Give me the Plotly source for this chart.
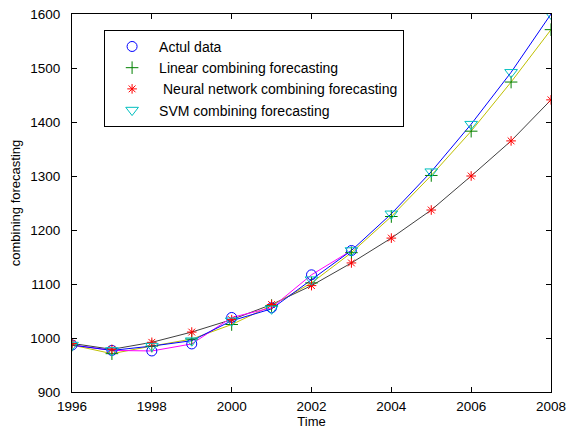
import plotly.graph_objects as go

years = list(range(1996, 2009))
actual_years = list(range(1996, 2004))
actual = [987, 977, 976, 989, 1038, 1056, 1117, 1162]
linear = [987, 971, 985, 998, 1025, 1060, 1102, 1158, 1225, 1301, 1383, 1474, 1571]
neural = [990, 979, 992, 1011, 1034, 1062, 1097, 1139, 1185, 1237, 1300, 1365, 1441]
svm = [987, 977, 985, 995, 1032, 1054, 1108, 1162, 1230, 1308, 1396, 1492, 1600]

x_ticks = [1996, 1998, 2000, 2002, 2004, 2006, 2008]
y_ticks = [900, 1000, 1100, 1200, 1300, 1400, 1500, 1600]

FONT = "Liberation Sans, Arial, sans-serif"

fig = go.Figure()
# connecting lines (not in legend)
fig.add_trace(go.Scatter(x=years, y=neural, mode="lines", line=dict(color="#404040", width=1), showlegend=False, hoverinfo="skip"))
fig.add_trace(go.Scatter(x=years, y=linear, mode="lines", line=dict(color="#bfbf00", width=1), showlegend=False, hoverinfo="skip"))
fig.add_trace(go.Scatter(x=actual_years, y=actual, mode="lines", line=dict(color="#ff00ff", width=1), showlegend=False, hoverinfo="skip"))
fig.add_trace(go.Scatter(x=years, y=svm, mode="lines", line=dict(color="#0000ff", width=1), showlegend=False, hoverinfo="skip"))

# markers (legend)
fig.add_trace(go.Scatter(x=actual_years, y=actual, mode="markers", name="Actul data",
                         marker=dict(symbol="circle-open", size=10, color="#0000ff", line=dict(width=1))))
fig.add_trace(go.Scatter(x=years, y=linear, mode="markers", name="Linear combining forecasting",
                         marker=dict(symbol="cross-thin-open", size=9, color="#008000", line=dict(width=1, color="#008000"))))
fig.add_trace(go.Scatter(x=years, y=neural, mode="markers", name=" Neural network combining forecasting",
                         marker=dict(symbol="asterisk-open", size=8, color="#ff0000", line=dict(width=1, color="#ff0000"))))
fig.add_trace(go.Scatter(x=years, y=svm, mode="markers", name="SVM combining forecasting",
                         marker=dict(symbol="triangle-down-open", size=11, color="#00bfbf", line=dict(width=1))))

axis_common = dict(showgrid=False, zeroline=False, showline=True, linecolor="black", linewidth=1,
                   mirror="ticks", ticks="inside", ticklen=5, tickcolor="black", automargin=False,
                   ticklabeloverflow="allow",
                   tickfont=dict(family=FONT, size=13.5, color="black"))

fig.update_xaxes(range=[1996, 2008], tickvals=x_ticks, ticktext=[str(v) for v in x_ticks],
                 ticklabelstandoff=2,
                 title=dict(text="Time", font=dict(family=FONT, size=13, color="black"), standoff=2), **axis_common)
fig.update_yaxes(range=[900, 1600], tickvals=y_ticks, ticktext=[str(v) for v in y_ticks],
                 ticklabelstandoff=8,
                 title=dict(text="combining forecasting", font=dict(family=FONT, size=13, color="black"), standoff=6), **axis_common)

fig.update_layout(
    width=568, height=422,
    margin=dict(l=64, r=25, t=6, b=38),
    paper_bgcolor="white", plot_bgcolor="white",
    font=dict(family=FONT, size=13, color="black"),
    legend=dict(x=0.067, y=0.958, xanchor="left", yanchor="top",
                bordercolor="black", borderwidth=1, bgcolor="white",
                font=dict(family=FONT, size=14), itemwidth=44, tracegroupgap=0),
)

fig.write_html("out.html")
